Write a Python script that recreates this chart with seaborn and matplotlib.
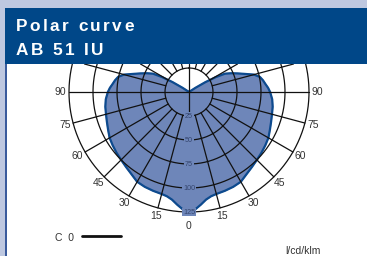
import numpy as np
import pandas as pd
import seaborn as sns
import matplotlib.pyplot as plt
from matplotlib.patches import Rectangle
from matplotlib.transforms import IdentityTransform
from matplotlib.font_manager import FontProperties

# C0 plane, one half (mirrored for the other side), gamma in degrees, cd/klm
gamma = [0, 3, 6, 9, 12, 15, 20, 25, 30, 35, 40, 45, 50, 55, 60, 65, 70, 75, 80, 85,
         90, 93, 96, 99, 102, 105, 108, 111, 114, 117, 119, 121, 123, 125, 180]
intensity = [125, 122.5, 118, 113.5, 111, 110, 109.5, 109, 108, 104.5, 102, 100, 98.5, 97,
             95.5, 93, 91, 89.5, 88.5, 87, 84.5, 82.5, 80, 78, 75.5, 70, 61, 54, 48, 42,
             32, 20, 8, 1, 0]
ring_values = [25, 50, 75, 100, 125]
angle_ticks = [0, 15, 30, 45, 60, 75, 90]
title_lines = ["Polar curve", "AB 51 IU"]
legend_label = "C  0"
unit_label = "l/cd/klm"

FILL = '#6e86b9'
EDGE = '#0d4a8e'
HEAD = '#004788'

sns.set_theme(style="white")
plt.rcParams['font.family'] = ['Liberation Sans', 'DejaVu Sans']

W, H = 367, 256
fig = plt.figure(figsize=(W / 100, H / 100), dpi=100, facecolor='#bec8e0')

# white panel and thin left edge
fig.add_artist(Rectangle((7 / W, 0), 1, (H - 64) / H, transform=fig.transFigure,
                         facecolor='white', edgecolor='none', zorder=-2))
fig.add_artist(Rectangle((5 / W, 0), 2 / W, (H - 64) / H, transform=fig.transFigure,
                         facecolor='#3a5b9c', edgecolor='none', zorder=-2))

# polar diagram
cx, cy, rad = 189, 92, 120
rmax = 125
ax = fig.add_axes([(cx - rad) / W, (H - cy - rad) / H, 2 * rad / W, 2 * rad / H],
                  projection='polar')
ax.set_theta_zero_location('S')
ax.set_theta_direction(1)

g = np.array(gamma, dtype=float)
iv = np.array(intensity, dtype=float)
df = pd.DataFrame({'theta': np.deg2rad(np.r_[-g[::-1], g[1:]]),
                   'I': np.r_[iv[::-1], iv[1:]]})
ax.fill(df['theta'], df['I'], color=FILL, zorder=1)
sns.lineplot(data=df, x='theta', y='I', sort=False, estimator=None, color=EDGE,
             lw=1.6, ax=ax, zorder=2)

# grid, cut off where the header starts (28 px above the centre)
h0 = (cy - 64) / (rad / rmax)
grid_kw = dict(color='#111111', lw=0.9, zorder=3, clip_on=False)
for r in ring_values:
    lim = np.pi if r <= h0 else np.arccos(-h0 / r)
    tc = np.linspace(-lim, lim, 400)
    ax.plot(tc, np.full_like(tc, r), **grid_kw)
for a in range(15, 180, 15):
    th = np.deg2rad(a)
    top = rmax if np.cos(th) >= 0 else min(rmax, h0 / -np.cos(th))
    for s in (1, -1):
        ax.plot([s * th] * 2, [0 if a == 90 else 25, top], **grid_kw)
ax.plot([np.pi, np.pi], [0, h0], **grid_kw)
ax.plot([0, 0], [0, 25], **grid_kw)

for r in ring_values:
    ax.text(0, r, str(r), ha='center', va='center', fontsize=5.2, color='#34456e',
            bbox=dict(boxstyle='square,pad=0.1', fc=FILL, ec='none'), zorder=4)
for a in angle_ticks:
    rr = 140 if a == 0 else 134
    for s in ((1,) if a == 0 else (1, -1)):
        ax.text(np.deg2rad(s * a), rr, str(a), ha='center', va='center',
                fontsize=7.5, color='#333333')
ax.set_ylim(0, rmax)
ax.set_axis_off()

# blue header, drawn last and on top
fig.add_artist(Rectangle((5 / W, (H - 64) / H), 1, 56 / H, transform=fig.transFigure,
                         facecolor=HEAD, edgecolor='none', zorder=100))


def spaced_text(x, y, s, gap, fp):
    rend = fig.canvas.get_renderer()
    w0 = rend.get_text_width_height_descent('l', fp, ismath=False)[0]
    for i, ch in enumerate(s):
        adv = rend.get_text_width_height_descent(s[:i] + 'l', fp, ismath=False)[0] - w0
        fig.text(x + adv + i * gap, y, ch, transform=IdentityTransform(),
                 fontproperties=fp, color='white', va='baseline', zorder=101)


fp_title = FontProperties(family=['Liberation Sans'], weight='bold', size=12.4)
spaced_text(15.8, H - 30.7, title_lines[0], 2.4, fp_title)
spaced_text(15.8, H - 55.0, title_lines[1], 2.4, fp_title)

fig.text(55 / W, 1 - 240.7 / H, legend_label, fontsize=7.5, color='#333333', va='baseline')
fig.add_artist(plt.Line2D([82 / W, 121 / W], [1 - 236 / H] * 2, color='#111111', lw=2))
fig.text(285 / W, 1 - 253.5 / H, unit_label, fontsize=7.5, color='#333333', va='baseline')

fig.savefig('out.png', dpi=100)
